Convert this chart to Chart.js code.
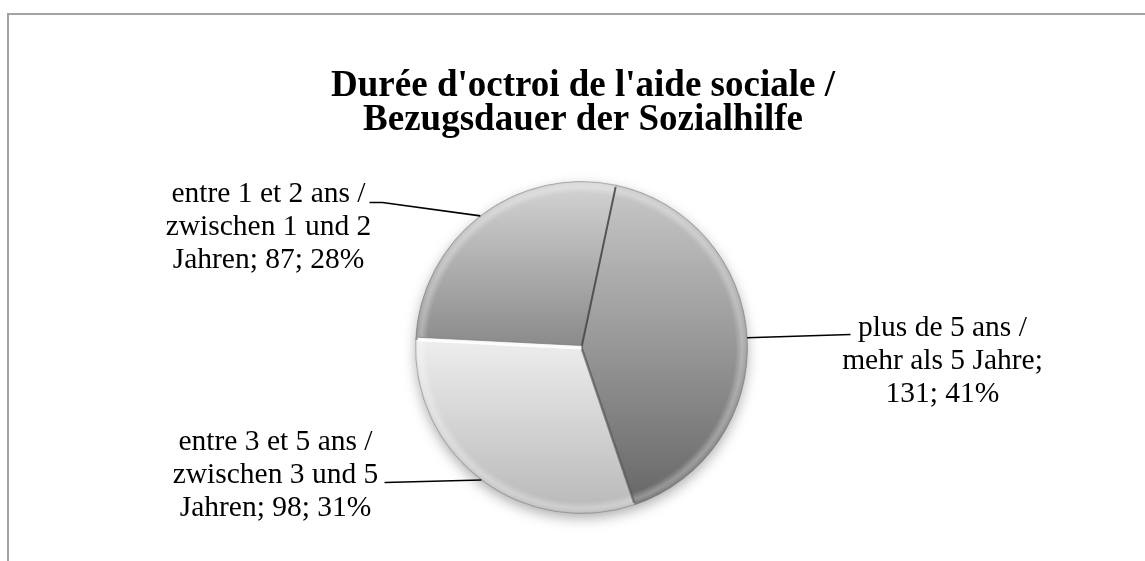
<!DOCTYPE html>
<html>
<head>
<meta charset="utf-8">
<script src="https://cdn.jsdelivr.net/npm/chart.js@4.4.1/dist/chart.umd.min.js"></script>
<style>
  html, body { margin: 0; padding: 0; background: #ffffff; }
  #wrap { position: relative; width: 1145px; height: 561px; }
</style>
</head>
<body>
<div id="wrap"><canvas id="c" width="1145" height="561"></canvas></div>
<script>
// ---- data ----
const titleLines = ["Durée d'octroi de l'aide sociale /", "Bezugsdauer der Sozialhilfe"];
const categories = [
  "plus de 5 ans / mehr als 5 Jahre",
  "entre 3 et 5 ans / zwischen 3 und 5 Jahren",
  "entre 1 et 2 ans / zwischen 1 und 2 Jahren"
];
const counts = [131, 98, 87];
const sliceTopColors = ["#c9c9c9", "#eeeeee", "#d4d4d4"];
const sliceBottomColors = ["#646464", "#b8b8b8", "#8a8a8a"];

const total = counts.reduce((a, b) => a + b, 0);

function sliceGradient(ctx) {
  const chart = ctx.chart;
  const i = ctx.dataIndex;
  const ca = chart.chartArea;
  if (!ca) return sliceTopColors[i];
  const g = chart.ctx.createLinearGradient(0, ca.top, 0, ca.bottom);
  if (i === 0) {
    g.addColorStop(0, sliceTopColors[0]);
    g.addColorStop(1, sliceBottomColors[0]);
  } else if (i === 1) {
    g.addColorStop(0, sliceTopColors[1]);
    g.addColorStop(0.47, sliceTopColors[1]);
    g.addColorStop(1, sliceBottomColors[1]);
  } else {
    g.addColorStop(0, sliceTopColors[2]);
    g.addColorStop(0.5, sliceBottomColors[2]);
    g.addColorStop(1, sliceBottomColors[2]);
  }
  return g;
}

const framePlugin = {
  id: 'frame',
  beforeDraw(chart) {
    const c = chart.ctx;
    c.save();
    c.fillStyle = '#ffffff';
    c.fillRect(0, 0, chart.width, chart.height);
    c.fillStyle = '#a3a3a3';
    c.fillRect(7, 13, chart.width - 7, 2);
    c.fillRect(7, 13, 2, chart.height - 13);
    // title
    c.fillStyle = '#000000';
    c.font = 'bold 37px "Liberation Serif", "Times New Roman", serif';
    c.textAlign = 'center';
    c.textBaseline = 'alphabetic';
    c.fillText(titleLines[0], 583, 96);
    c.fillText(titleLines[1], 583, 130);
    c.restore();
  }
};

const bevelPlugin = {
  id: 'bevel',
  beforeDatasetsDraw(chart) {
    const arc = chart.getDatasetMeta(0).data[0];
    if (!arc) return;
    const c = chart.ctx;
    c.save();
    c.shadowColor = 'rgba(0,0,0,0.35)';
    c.shadowBlur = 14;
    c.shadowOffsetY = 5;
    c.fillStyle = '#bbbbbb';
    c.beginPath();
    c.arc(arc.x, arc.y, arc.outerRadius - 1, 0, Math.PI * 2);
    c.fill();
    c.restore();
  },
  afterDatasetsDraw(chart) {
    const arcs = chart.getDatasetMeta(0).data;
    if (!arcs.length) return;
    const c = chart.ctx;
    const cx = arcs[0].x, cy = arcs[0].y, r = arcs[0].outerRadius;
    c.save();
    // rim bevel
    const rg = c.createRadialGradient(cx, cy, r - 12, cx, cy, r);
    rg.addColorStop(0, 'rgba(255,255,255,0)');
    rg.addColorStop(0.55, 'rgba(255,255,255,0.30)');
    rg.addColorStop(0.85, 'rgba(255,255,255,0.18)');
    rg.addColorStop(1, 'rgba(120,120,120,0.25)');
    c.fillStyle = rg;
    c.beginPath();
    c.arc(cx, cy, r, 0, Math.PI * 2);
    c.fill();
    // slice separators
    const seps = [
      { a: arcs[0].startAngle, col: 'rgba(70,70,70,0.85)', w: 2 },
      { a: arcs[0].endAngle, col: 'rgba(80,80,80,0.6)', w: 2.5 },
      { a: arcs[1].endAngle, col: 'rgba(255,255,255,0.95)', w: 4 }
    ];
    seps.forEach(s => {
      c.strokeStyle = s.col;
      c.lineWidth = s.w;
      c.beginPath();
      c.moveTo(cx, cy);
      c.lineTo(cx + (r - 2) * Math.cos(s.a), cy + (r - 2) * Math.sin(s.a));
      c.stroke();
    });
    c.strokeStyle = 'rgba(120,120,120,0.7)';
    c.lineWidth = 1;
    c.beginPath();
    const a3 = arcs[1].endAngle;
    c.moveTo(cx, cy - 2);
    c.lineTo(cx + (r - 2) * Math.cos(a3), cy - 2 + (r - 2) * Math.sin(a3));
    c.stroke();
    c.restore();
  }
};

function wrapText(c, text, maxW) {
  const words = text.split(' ');
  const lines = [];
  let cur = '';
  words.forEach(w => {
    const t = cur ? cur + ' ' + w : w;
    if (cur && c.measureText(t).width > maxW) { lines.push(cur); cur = w; }
    else cur = t;
  });
  if (cur) lines.push(cur);
  return lines;
}

const labelPlugin = {
  id: 'pieLabels',
  afterDraw(chart) {
    const arcs = chart.getDatasetMeta(0).data;
    if (!arcs.length) return;
    const c = chart.ctx;
    const cx = arcs[0].x, cy = arcs[0].y;
    // label layout relative to pie centre: text centre dx, first baseline dy, leader end points
    const layout = [
      { tx: 361, ty: -12, pts: [[269, -13]] },
      { tx: -306, ty: 102, pts: [[-197, 135]] },
      { tx: -313, ty: -146, pts: [[-199, -145], [-212, -145]] }
    ];
    c.save();
    c.font = '29.5px "Liberation Serif", "Times New Roman", serif';
    c.fillStyle = '#000000';
    c.strokeStyle = '#000000';
    c.lineWidth = 1.6;
    c.textAlign = 'center';
    c.textBaseline = 'alphabetic';
    arcs.forEach((a, i) => {
      const mid = (a.startAngle + a.endAngle) / 2;
      const r = a.outerRadius;
      const L = layout[i];
      c.beginPath();
      c.moveTo(cx + r * Math.cos(mid), cy + r * Math.sin(mid));
      L.pts.forEach(p => c.lineTo(cx + p[0], cy + p[1]));
      c.stroke();
      const pct = Math.round(counts[i] / total * 100);
      const text = categories[i] + '; ' + counts[i] + '; ' + pct + '%';
      const lines = wrapText(c, text, 218);
      lines.forEach((ln, k) => c.fillText(ln, cx + L.tx, cy + L.ty + k * 33));
    });
    c.restore();
  }
};

new Chart(document.getElementById('c'), {
  type: 'pie',
  data: {
    labels: categories,
    datasets: [{
      data: counts,
      backgroundColor: sliceGradient,
      borderColor: 'rgba(110,110,110,0.4)',
      borderWidth: 1
    }]
  },
  options: {
    responsive: false,
    animation: false,
    rotation: 12,
    layout: { padding: { left: 415, right: 397, top: 181, bottom: 47 } },
    plugins: {
      legend: { display: false },
      title: { display: false },
      tooltip: { enabled: false }
    }
  },
  plugins: [framePlugin, bevelPlugin, labelPlugin]
});
</script>
</body>
</html>
